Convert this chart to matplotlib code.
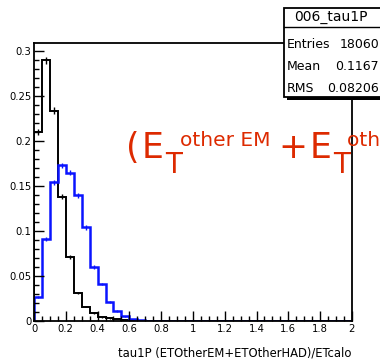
import numpy as np
import matplotlib
matplotlib.use("Agg")
import matplotlib.pyplot as plt
from matplotlib.ticker import MultipleLocator, FuncFormatter

# normalised histograms, 40 bins of 0.05 between 0 and 2
bin_edges = np.linspace(0.0, 2.0, 41)
black_vals = [0.210, 0.290, 0.234, 0.138, 0.071, 0.031, 0.016, 0.009,
              0.004, 0.003, 0.002, 0.001] + [0.0] * 28
blue_vals = [0.027, 0.091, 0.154, 0.173, 0.165, 0.140, 0.104, 0.060,
             0.041, 0.021, 0.011, 0.005, 0.002, 0.001] + [0.0] * 26

hist_title = "006_tau1P"
stat_names = ["Entries", "Mean", "RMS"]
stat_values = ["18060", "0.1167", "0.08206"]
entries = 18060

xlabel = "tau1P (ETOtherEM+ETOtherHAD)/ETcalo"

narrow = ["Liberation Sans Narrow", "DejaVu Sans"]
red = "#dd2a00"

fig = plt.figure(figsize=(3.8, 3.62), dpi=100)
ax = fig.add_axes([0.0895, 0.1133, 0.8365, 0.7677])

centers = 0.5 * (bin_edges[:-1] + bin_edges[1:])
for vals, colour, lw in [(black_vals, "black", 1.4), (blue_vals, "#0a14ff", 1.8)]:
    vals = np.asarray(vals)
    ax.stairs(vals, bin_edges, color=colour, lw=lw, baseline=0)
    shown = vals > 0
    err = np.sqrt(vals[shown] / entries)
    ax.errorbar(centers[shown], vals[shown], yerr=err, fmt="none",
                ecolor=colour, elinewidth=1.0, capsize=0)

ax.set_xlim(0, 2)
ax.set_ylim(0, 0.309)

ax.xaxis.set_major_locator(MultipleLocator(0.2))
ax.xaxis.set_minor_locator(MultipleLocator(0.05))
ax.yaxis.set_major_locator(MultipleLocator(0.05))
ax.yaxis.set_minor_locator(MultipleLocator(0.01))
fmt = FuncFormatter(lambda v, pos: "%g" % round(v, 3))
ax.xaxis.set_major_formatter(fmt)
ax.yaxis.set_major_formatter(fmt)
ax.tick_params(which="both", direction="in", top=False, right=False,
               width=1.0, labelsize=8, pad=2)
ax.tick_params(which="major", length=7)
ax.tick_params(which="minor", length=3.5)
for lab in ax.get_xticklabels() + ax.get_yticklabels():
    lab.set_family(narrow)
    lab.set_stretch("condensed")
for sp in ax.spines.values():
    sp.set_linewidth(1.3)

fig.text(352 / 380, 1 - 353 / 362, xlabel, ha="right", va="center",
         fontsize=9.3, family=narrow, stretch="condensed")

# stats box in the top right corner
box = plt.Rectangle((284 / 380, 1 - 97 / 362), 0.3, 89 / 362,
                    transform=fig.transFigure, facecolor="white",
                    edgecolor="black", lw=1.3, zorder=5)
shadow = plt.Rectangle((287 / 380, 1 - 100 / 362), 0.3, 89 / 362,
                       transform=fig.transFigure, facecolor="black",
                       edgecolor="none", zorder=4)
fig.add_artist(shadow)
fig.add_artist(box)
fig.add_artist(plt.Line2D([284 / 380, 1.0], [1 - 27 / 362] * 2,
                          transform=fig.transFigure, color="black",
                          lw=1.0, zorder=6))
fig.text(331 / 380, 1 - 17 / 362, hist_title, ha="center", va="center",
         fontsize=10, family=narrow, zorder=7)
for i, (name, value) in enumerate(zip(stat_names, stat_values)):
    y = 1 - (45 + 22 * i) / 362
    fig.text(287 / 380, y, name, ha="left", va="center", fontsize=9,
             family=narrow, zorder=7)
    fig.text(379 / 380, y, value, ha="right", va="center", fontsize=9,
             family=narrow, zorder=7)

# overlaid formula label
big, sub, sup = 25, 20, 14.5
fig.text(126 / 380, 1 - 158 / 362, "(", color=red, fontsize=big,
         ha="left", va="baseline")
fig.text(142 / 380, 1 - 158 / 362, "E", color=red, fontsize=big,
         ha="left", va="baseline")
fig.text(165 / 380, 1 - 173 / 362, "T", color=red, fontsize=sub,
         ha="left", va="baseline")
fig.text(180 / 380, 1 - 146 / 362, "other EM", color=red, fontsize=sup,
         ha="left", va="baseline")
fig.text(278 / 380, 1 - 158 / 362, "+", color=red, fontsize=big,
         ha="left", va="baseline")
fig.text(310 / 380, 1 - 158 / 362, "E", color=red, fontsize=big,
         ha="left", va="baseline")
fig.text(333 / 380, 1 - 173 / 362, "T", color=red, fontsize=sub,
         ha="left", va="baseline")
fig.text(347 / 380, 1 - 146 / 362, "other HAD)", color=red, fontsize=sup,
         ha="left", va="baseline")

fig.savefig("out.png", dpi=100)
